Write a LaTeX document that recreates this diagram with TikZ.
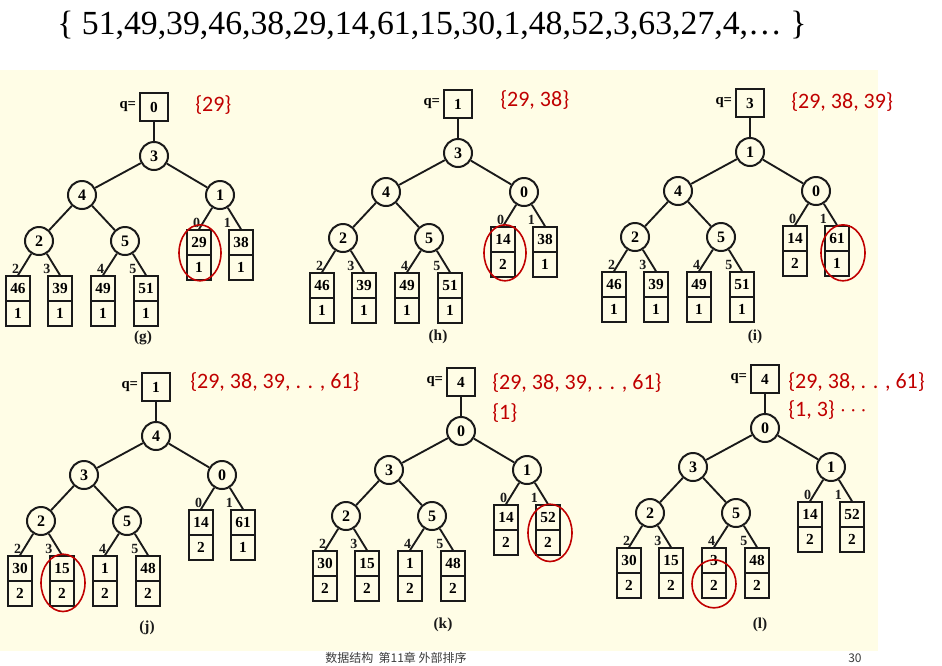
\documentclass[tikz,border=0pt]{standalone}
\usepackage{fontspec}
\setmainfont{Liberation Serif}
\newfontfamily\redfont{Carlito}
\newfontfamily\cjkfont{Noto Sans CJK SC}
\usetikzlibrary{calc}
\definecolor{paper}{HTML}{FFFDE6}
\definecolor{ink}{HTML}{1A1A1A}
\definecolor{redmark}{HTML}{C00000}
\tikzset{
  innernode/.style={circle, draw=ink, line width=1.5pt, minimum size=21pt, inner sep=0pt,
    font=\bfseries\fontsize{12}{12}\selectfont},
  cell/.style={rectangle, draw=ink, line width=1.5pt, minimum width=18.5pt, minimum height=18.5pt,
    inner sep=0pt, font=\bfseries\fontsize{11.5}{12}\selectfont},
  qbox/.style={rectangle, draw=ink, line width=1.5pt, minimum size=21pt, inner sep=0pt,
    font=\bfseries\fontsize{11.5}{12}\selectfont},
  qlabel/.style={inner sep=0pt, font=\bfseries\fontsize{11}{12}\selectfont},
  treeedge/.style={draw=ink, line width=1.4pt},
  elabel/.style={inner sep=1.5pt, font=\bfseries\fontsize{10.5}{11}\selectfont, text=ink},
  caption/.style={inner sep=0pt, font=\bfseries\fontsize{11.5}{12}\selectfont, text=ink},
  redset/.style={anchor=west, inner sep=0pt, text=redmark, font=\redfont\fontsize{16.5}{18}\selectfont},
  ring/.style={draw=redmark, line width=1.2pt},
}
% #1 prefix, #2 root position, #3 q/root/L/R/LL/LR, #4 leaves key/count x6
\newcommand\drawtree[4]{%
\begin{scope}[shift={(#2)}]
\foreach \vq/\va/\vb/\vc/\vd/\ve in {#3}{
  \node[qbox] (#1q) at (0,-49) {\vq};
  \node[qlabel, anchor=east] (#1ql) at ([xshift=-2pt]#1q.west) {q=};
  \node[innernode] (#1n0) at (0,0) {\va};
  \node[innernode] (#1n1) at (-72,39) {\vb};
  \node[innernode] (#1n2) at (66,39) {\vc};
  \node[innernode] (#1n3) at (-115,85) {\vd};
  \node[innernode] (#1n4) at (-29,85) {\ve};
}
\foreach \ka/\ca/\kb/\cb/\kc/\cc/\kd/\cd/\ke/\ce/\kf/\cf in {#4}{
  \node[cell] (#1k1) at (-136,132.5) {\ka};
  \node[cell] (#1c1) at (-136,157.5) {\ca};
  \node[cell] (#1k2) at (-94,132.5) {\kb};
  \node[cell] (#1c2) at (-94,157.5) {\cb};
  \node[cell] (#1k3) at (-51,132.5) {\kc};
  \node[cell] (#1c3) at (-51,157.5) {\cc};
  \node[cell] (#1k4) at (-8,132.5) {\kd};
  \node[cell] (#1c4) at (-8,157.5) {\cd};
  \node[cell] (#1k5) at (45,86.5) {\ke};
  \node[cell] (#1c5) at (45,111.5) {\ce};
  \node[cell] (#1k6) at (87,86.5) {\kf};
  \node[cell] (#1c6) at (87,111.5) {\cf};
}
\draw[treeedge] (#1q) -- (#1n0);
\draw[treeedge] (#1n0) -- (#1n1);
\draw[treeedge] (#1n0) -- (#1n2);
\draw[treeedge] (#1n1) -- (#1n3);
\draw[treeedge] (#1n1) -- (#1n4);
\draw[treeedge] (#1n3) -- node[elabel, pos=0.7, left] {2} (#1k1.north);
\draw[treeedge] (#1n3) -- node[elabel, pos=0.7, left=2pt] {3} (#1k2.north);
\draw[treeedge] (#1n4) -- node[elabel, pos=0.7, left] {4} (#1k3.north);
\draw[treeedge] (#1n4) -- node[elabel, pos=0.7, left=2pt] {5} (#1k4.north);
\draw[treeedge] (#1n2) -- node[elabel, pos=0.7, left] {0} (#1k5.north);
\draw[treeedge] (#1n2) -- node[elabel, pos=0.7, left=2.5pt] {1} (#1k6.north);
\end{scope}}
\begin{document}
\begin{tikzpicture}[x=0.75pt, y=-0.75pt]
\useasboundingbox (0,0) rectangle (942,665);
\fill[white] (0,0) rectangle (942,665);
\fill[paper] (0,70) rectangle (878,651);

% title sequence
\node[anchor=base west, inner sep=0pt, font=\fontsize{25.3}{30}\selectfont] (title) at (57,34)
  {\{ 51,49,39,46,38,29,14,61,15,30,1,48,52,3,63,27,4,… \}};

% trees
\drawtree{g}{154,156}{0/3/4/1/2/5}{46/1/39/1/49/1/51/1/29/1/38/1}
\drawtree{h}{458,153}{1/3/4/0/2/5}{46/1/39/1/49/1/51/1/14/2/38/1}
\drawtree{i}{750,152}{3/1/4/0/2/5}{46/1/39/1/49/1/51/1/14/2/61/1}
\drawtree{j}{156,436}{1/4/3/0/2/5}{30/2/15/2/1/2/48/2/14/2/61/1}
\drawtree{k}{461,431}{4/0/3/1/2/5}{30/2/15/2/1/2/48/2/14/2/52/2}
\drawtree{l}{765,428}{4/0/3/1/2/5}{30/2/15/2/3/2/48/2/14/2/52/2}

% captions
\node[caption] (capg) at (143,338) {(g)};
\node[caption] (caph) at (438,337) {(h)};
\node[caption] (capi) at (755,337) {(i)};
\node[caption] (capj) at (147,628) {(j)};
\node[caption] (capk) at (443,625) {(k)};
\node[caption] (capl) at (760,625) {(l)};

% red rings
\draw[ring] ($(gk5.south)+(1,-3)$) ellipse [x radius=15.75pt, y radius=21pt];
\draw[ring] ($(hk5.south)+(2,0)$) ellipse [x radius=15.75pt, y radius=21pt];
\draw[ring] ($(ik6.south)+(6,1)$) ellipse [x radius=16.5pt, y radius=21pt];
\draw[ring] ($(jk2.south)+(1,1)$) ellipse [x radius=16.5pt, y radius=21.5pt];
\draw[ring] ($(kk6.south)+(2,2)$) ellipse [x radius=16.5pt, y radius=21.5pt];
\draw[ring] ($(lk3.south)+(0,10)$) ellipse [x radius=16.5pt, y radius=18pt];

% red sets
\node[redset] (setg) at (195,105) {\{29\}};
\node[redset] (seth) at (500,100) {\{29, 38\}};
\node[redset] (seti) at (791,102) {\{29, 38, 39\}};
\node[redset] (setj) at (190,382) {\{29, 38, 39, . . , 61\}};
\node[redset] (setk) at (492,383) {\{29, 38, 39, . . , 61\}};
\node[redset] (setk2) at (492,413) {\{1\}};
\node[redset] (setl) at (788,382) {\{29, 38, . . , 61\}};
\node[redset] (setl2) at (788,410) {\{1, 3\} $\cdots$};

% footer
\node[anchor=base west, inner sep=0pt, text=ink!85, font=\cjkfont\fontsize{9}{10}\selectfont] (footer) at (325,662)
  {数据结构 \ 第11章 外部排序};
\node[anchor=base west, inner sep=0pt, text=ink!85, font=\cjkfont\fontsize{9}{10}\selectfont] (pageno) at (848,662) {30};
\end{tikzpicture}
\end{document}
